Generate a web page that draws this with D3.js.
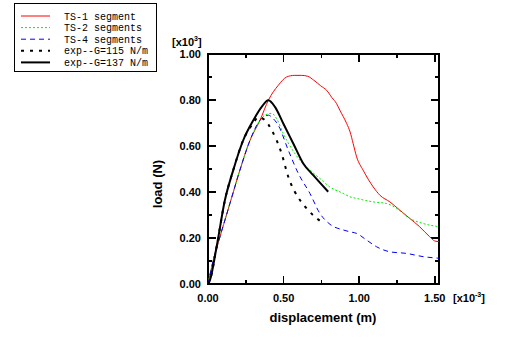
<!DOCTYPE html>
<html>
<head>
<meta charset="utf-8">
<script src="https://cdn.jsdelivr.net/npm/d3@7"></script>
<style>
  body { margin: 0; background: #fff; }
  text { font-family: "Liberation Sans", Arial, sans-serif; }
</style>
</head>
<body>
<div id="chart"></div>
<script>
// values (x in 1e-3 m, y in 1e3 N)
var ts1X = [0, 0.035, 0.079, 0.145, 0.211, 0.278, 0.344, 0.40, 0.465, 0.52, 0.57, 0.62, 0.66, 0.70, 0.745, 0.785, 0.82, 0.85, 0.872, 0.917, 0.94, 0.96, 0.983, 1.026, 1.093, 1.137, 1.203, 1.269, 1.335, 1.40, 1.467, 1.50, 1.53];
var ts1Y = [0, 0.104, 0.205, 0.35, 0.495, 0.625, 0.712, 0.80, 0.864, 0.90, 0.907, 0.907, 0.903, 0.886, 0.862, 0.842, 0.81, 0.785, 0.756, 0.698, 0.661, 0.611, 0.553, 0.495, 0.422, 0.386, 0.357, 0.321, 0.285, 0.249, 0.205, 0.187, 0.184];

var ts2X = [0, 0.035, 0.079, 0.145, 0.211, 0.278, 0.344, 0.38, 0.421, 0.454, 0.498, 0.553, 0.608, 0.674, 0.74, 0.806, 0.894, 0.939, 0.983, 1.093, 1.181, 1.247, 1.335, 1.423, 1.53];
var ts2Y = [0, 0.104, 0.205, 0.35, 0.495, 0.625, 0.712, 0.735, 0.742, 0.719, 0.654, 0.589, 0.538, 0.495, 0.459, 0.422, 0.394, 0.379, 0.372, 0.357, 0.35, 0.329, 0.285, 0.263, 0.249];

var ts4X = [0, 0.035, 0.079, 0.145, 0.211, 0.278, 0.344, 0.37, 0.40, 0.43, 0.465, 0.531, 0.597, 0.674, 0.74, 0.806, 0.894, 0.939, 0.983, 1.049, 1.115, 1.203, 1.313, 1.423, 1.53];
var ts4Y = [0, 0.104, 0.205, 0.35, 0.495, 0.625, 0.712, 0.728, 0.734, 0.72, 0.69, 0.582, 0.481, 0.394, 0.307, 0.26, 0.235, 0.227, 0.22, 0.191, 0.162, 0.14, 0.133, 0.119, 0.112];

var exp115X = [0, 0.013, 0.057, 0.112, 0.167, 0.233, 0.30, 0.332, 0.377, 0.421, 0.487, 0.531, 0.608, 0.652, 0.707, 0.751];
var exp115Y = [0, 0.017, 0.162, 0.365, 0.495, 0.625, 0.70, 0.725, 0.712, 0.669, 0.567, 0.466, 0.365, 0.329, 0.292, 0.27];

var exp137X = [0, 0.013, 0.057, 0.112, 0.167, 0.233, 0.30, 0.355, 0.399, 0.443, 0.498, 0.564, 0.63, 0.696, 0.795];
var exp137Y = [0, 0.017, 0.162, 0.365, 0.495, 0.625, 0.712, 0.77, 0.799, 0.77, 0.698, 0.611, 0.524, 0.473, 0.401];

var seriesNames = ["TS-1 segment", "TS-2 segments", "TS-4 segments", "exp--G=115 N/m", "exp--G=137 N/m"];
var xTicks = [0, 0.5, 1.0, 1.5];
var yTicks = [0, 0.2, 0.4, 0.6, 0.8, 1.0];

var series = [
  {name: seriesNames[0], xs: ts1X, ys: ts1Y, color: "#ff0000", width: 1, dash: null},
  {name: seriesNames[1], xs: ts2X, ys: ts2Y, color: "#00ee00", width: 1, dash: "2,2"},
  {name: seriesNames[2], xs: ts4X, ys: ts4Y, color: "#0000ff", width: 1, dash: "5,4"},
  {name: seriesNames[3], xs: exp115X, ys: exp115Y, color: "#000000", width: 2, dash: "3,6"},
  {name: seriesNames[4], xs: exp137X, ys: exp137Y, color: "#000000", width: 2, dash: null}
];

var svgWidth = 510, svgHeight = 362;
var margin = {left: 208, top: 54, right: 71, bottom: 78};
var w = svgWidth - margin.left - margin.right;
var h = svgHeight - margin.top - margin.bottom;

var svg = d3.select("#chart").append("svg")
  .attr("width", svgWidth)
  .attr("height", svgHeight);

var g = svg.append("g")
  .attr("transform", `translate(${margin.left}, ${margin.top})`);

var xScale = d3.scaleLinear().domain([0, 1.528]).range([0, w]);
var yScale = d3.scaleLinear().domain([0, 1.0]).range([h, 0]);

// frame
g.append("rect")
  .attr("x", 0).attr("y", 0).attr("width", w).attr("height", h)
  .attr("fill", "none").attr("stroke", "#000").attr("stroke-width", 2)
  .attr("shape-rendering", "crispEdges");

// ticks pointing in, on all four sides
var xMinor = d3.range(0, 1.51, 0.25);
var yMinor = d3.range(0, 1.01, 0.1);
function tickLen(v, step) { return Math.abs(v / step - Math.round(v / step)) < 1e-6 ? 8 : 4; }

xMinor.forEach(function(v) {
  var L = tickLen(v, 0.5), x = xScale(v);
  g.append("line").attr("x1", x).attr("x2", x).attr("y1", h).attr("y2", h - L);
  g.append("line").attr("x1", x).attr("x2", x).attr("y1", 0).attr("y2", L);
});
yMinor.forEach(function(v) {
  var L = tickLen(v, 0.2), y = yScale(v);
  g.append("line").attr("x1", 0).attr("x2", L).attr("y1", y).attr("y2", y);
  g.append("line").attr("x1", w).attr("x2", w - L).attr("y1", y).attr("y2", y);
});
g.selectAll("line").attr("stroke", "#000").attr("stroke-width", 1.5).attr("shape-rendering", "crispEdges");

// tick labels
g.selectAll(".xl").data(xTicks).enter().append("text")
  .attr("x", d => xScale(d)).attr("y", h + 18)
  .attr("text-anchor", "middle").attr("font-size", 11).attr("font-weight", "bold")
  .text(d => d.toFixed(2));
g.selectAll(".yl").data(yTicks).enter().append("text")
  .attr("x", -7).attr("y", d => yScale(d) + 4)
  .attr("text-anchor", "end").attr("font-size", 11).attr("font-weight", "bold")
  .text(d => d.toFixed(2));

// exponent markers
var xe = g.append("text").attr("x", 245).attr("y", h + 18).attr("font-size", 11).attr("font-weight", "bold");
xe.append("tspan").text("[x10");
xe.append("tspan").attr("dy", -5).attr("font-size", 7).text("-3");
xe.append("tspan").attr("dy", 5).text("]");

var ye = g.append("text").attr("x", -36).attr("y", -8).attr("font-size", 11).attr("font-weight", "bold");
ye.append("tspan").text("[x10");
ye.append("tspan").attr("dy", -5).attr("font-size", 7).text("3");
ye.append("tspan").attr("dy", 5).text("]");

// axis titles
g.append("text")
  .attr("x", w / 2 - 0.5).attr("y", h + 38)
  .attr("text-anchor", "middle").attr("font-size", 13).attr("font-weight", "bold")
  .text("displacement (m)");
g.append("text")
  .attr("transform", `translate(-46, ${h / 2 + 15}) rotate(-90)`)
  .attr("text-anchor", "middle").attr("font-size", 13).attr("font-weight", "bold")
  .text("load (N)");

// curves
var line = d3.line()
  .x(d => xScale(d[0]))
  .y(d => yScale(d[1]))
  .curve(d3.curveMonotoneX);

series.forEach(function(s) {
  var pts = s.xs.map((x, i) => [x, s.ys[i]]);
  g.append("path")
    .attr("d", line(pts))
    .attr("fill", "none")
    .attr("stroke", s.color)
    .attr("stroke-width", s.width)
    .attr("stroke-dasharray", s.dash);
});

// legend box top-left
var legend = svg.append("g");
legend.append("rect")
  .attr("x", 14.5).attr("y", 3.5).attr("width", 142).attr("height", 68)
  .attr("fill", "#fff").attr("stroke", "#000").attr("stroke-width", 1);

series.forEach(function(s, i) {
  var y = 16 + i * 11.6;
  legend.append("line")
    .attr("x1", 21).attr("x2", 50).attr("y1", y).attr("y2", y)
    .attr("stroke", s.color).attr("stroke-width", s.width)
    .attr("stroke-dasharray", s.dash);
  legend.append("text")
    .attr("x", 64).attr("y", y + 3.5)
    .style("font-family", "'Liberation Mono', 'DejaVu Sans Mono', monospace")
    .style("font-size", "10px")
    .text(s.name);
});
</script>
</body>
</html>
